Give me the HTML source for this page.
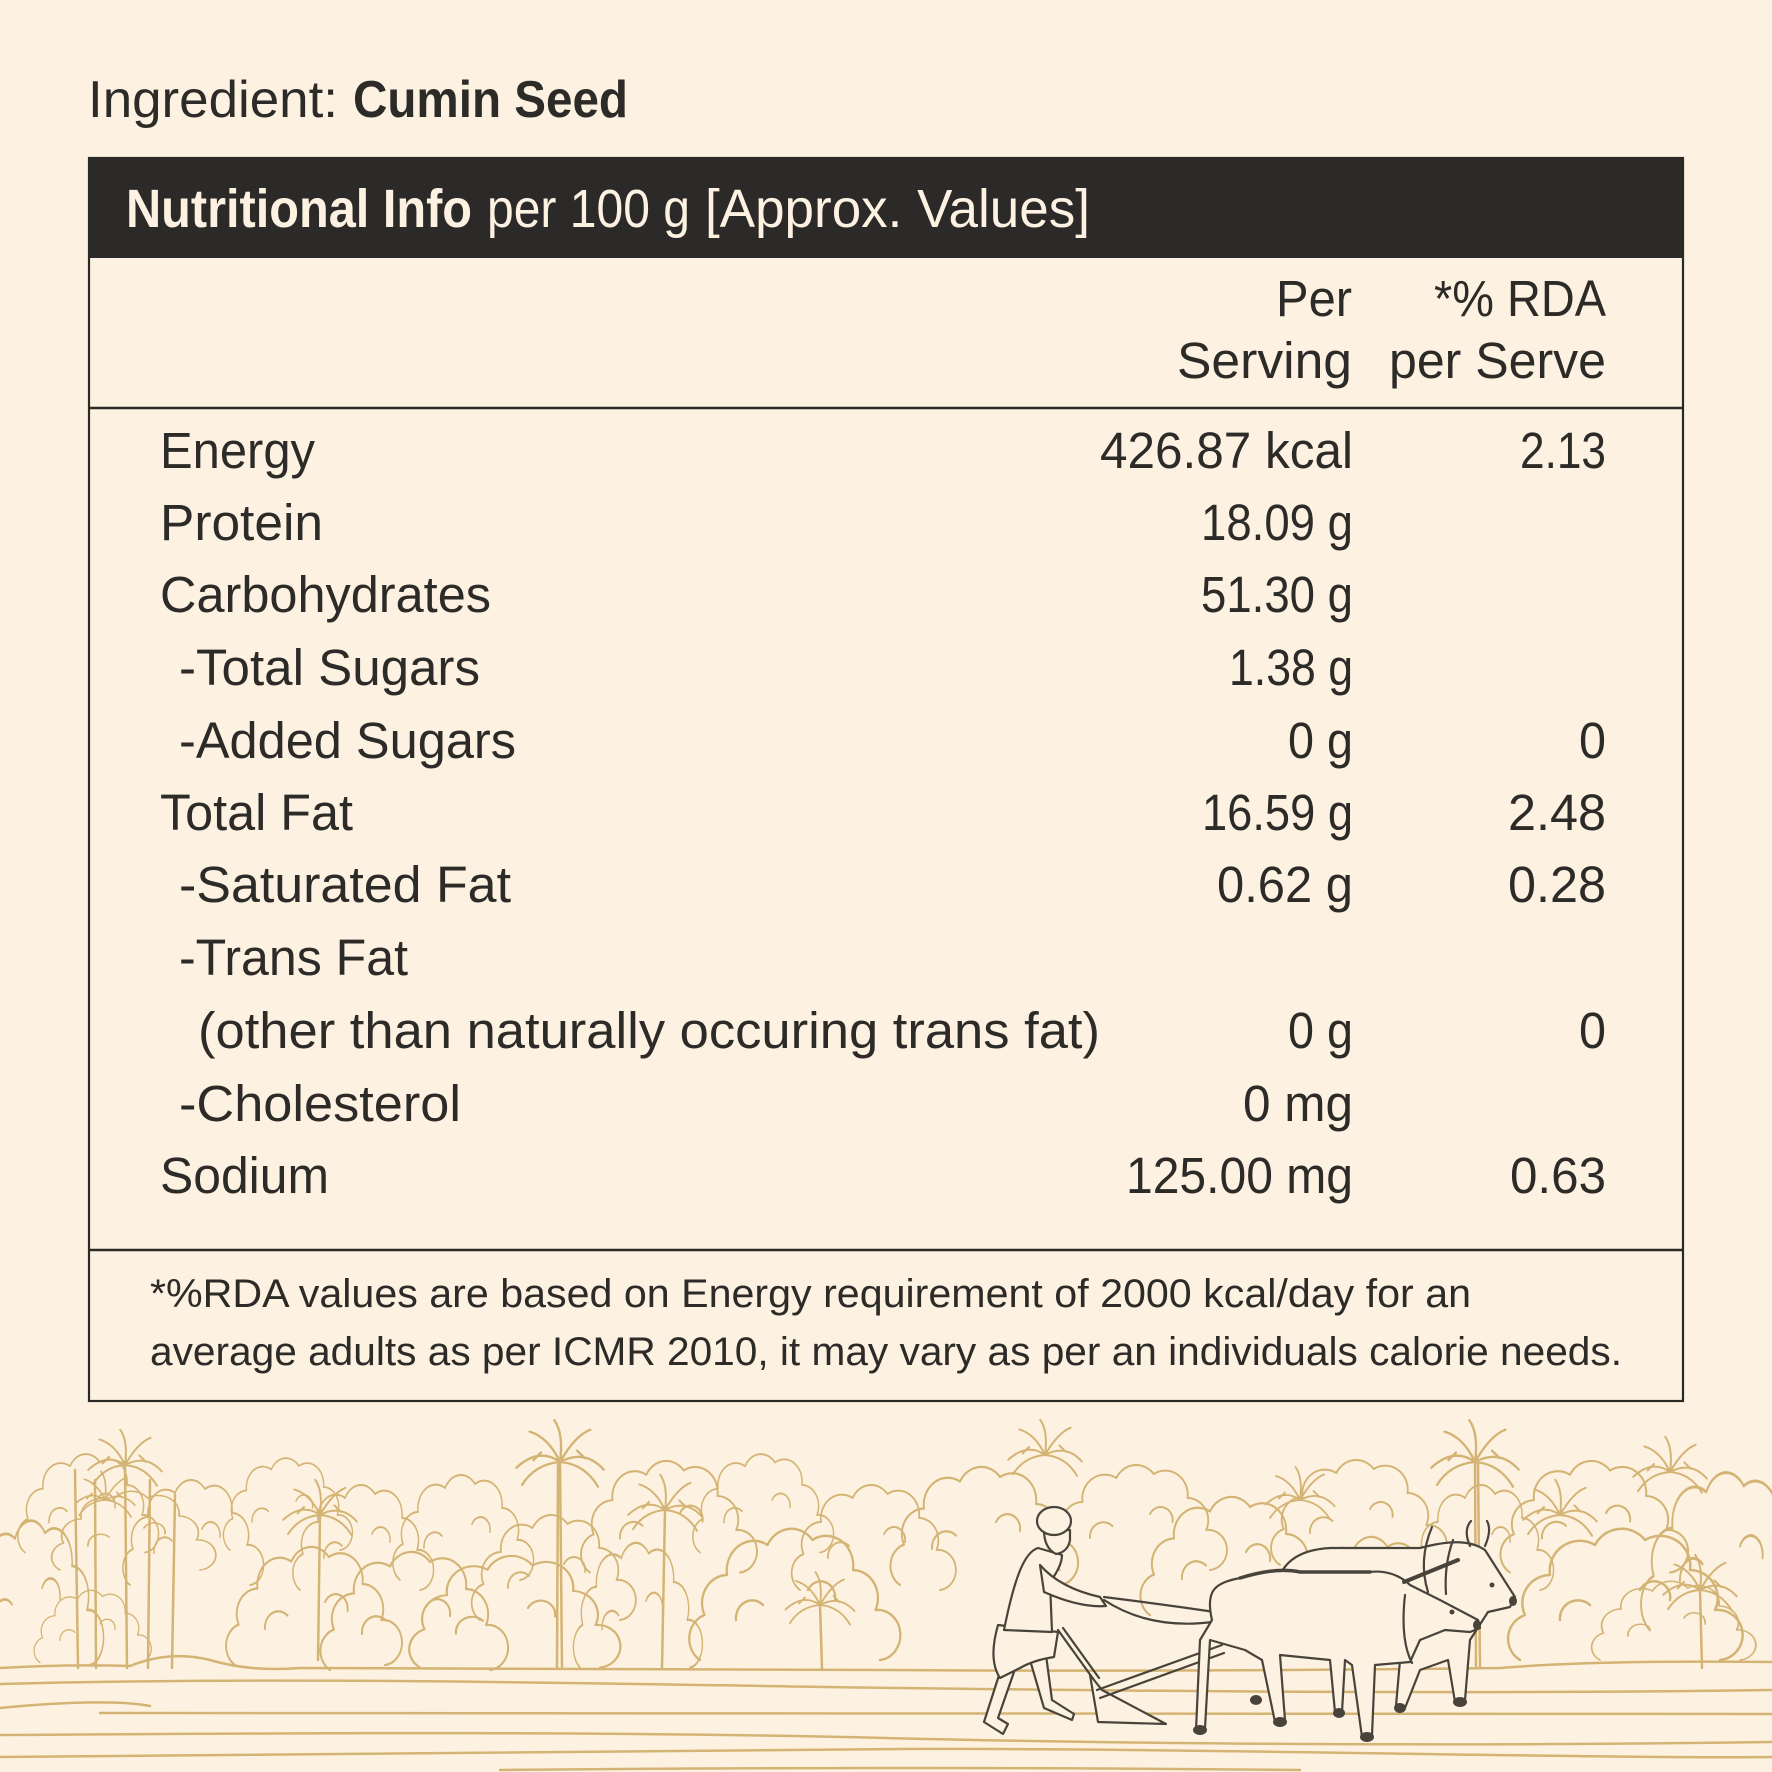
<!DOCTYPE html>
<html>
<head>
<meta charset="utf-8">
<style>
html,body{margin:0;padding:0;background:#fdf2e2;}
svg{display:block;}
.t{font-family:"Liberation Sans",Arial,sans-serif;fill:#2d2b28;}
.b{font-weight:bold;}
.g{fill:none;stroke:#d4b474;stroke-width:2.5;stroke-linecap:round;stroke-linejoin:round;}
.d{fill:#fdf2e2;stroke:#48433b;stroke-width:2.2;stroke-linecap:round;stroke-linejoin:round;}
.dl{fill:none;stroke:#48433b;stroke-width:2.2;stroke-linecap:round;stroke-linejoin:round;}
.hf{fill:#48433b;stroke:none;}
</style>
</head>
<body>
<svg width="1772" height="1772" viewBox="0 0 1772 1772" xmlns="http://www.w3.org/2000/svg">
<defs>
  <path id="cl" d="M0,150 A25,25 0 0 1 5,105 A28,28 0 0 1 30,65 A30,30 0 0 1 75,35 A30,30 0 0 1 125,30 A30,30 0 0 1 170,60 A28,28 0 0 1 195,100 A25,25 0 0 1 200,150 M40,110 A18,18 0 0 1 70,95 M120,80 A16,16 0 0 1 150,90"/>
  <path id="pm" d="M0,0 Q-22,-16 -46,6 M0,0 Q-12,-26 -32,-32 M0,0 Q4,-30 -6,-44 M0,0 Q16,-28 32,-34 M0,0 Q26,-14 46,8 M0,0 Q-26,2 -40,24 M0,0 Q26,2 40,26 M-20,-10 L-28,-2 M18,-12 L26,-4"/>
</defs>
<rect x="0" y="0" width="1772" height="1772" fill="#fdf2e2"/>

<!-- Background illustration -->
<g class="g">
  <use href="#cl" transform="translate(-30,1500) scale(0.6,1.1)"/>
  <use href="#cl" transform="translate(25,1440) scale(0.6,0.75)"/>
  <use href="#cl" transform="translate(60,1480) scale(0.7,0.6)"/>
  <use href="#cl" transform="translate(130,1465) scale(0.6,0.8)"/>
  <use href="#cl" transform="translate(230,1445) scale(0.55,0.7)"/>
  <use href="#cl" transform="translate(235,1530) scale(0.75,0.9)"/>
  <use href="#cl" transform="translate(300,1470) scale(0.6,0.8)"/>
  <use href="#cl" transform="translate(330,1535) scale(0.8,0.9)"/>
  <use href="#cl" transform="translate(400,1460) scale(0.6,0.8)"/>
  <use href="#cl" transform="translate(420,1540) scale(0.9,0.85)"/>
  <use href="#cl" transform="translate(480,1500) scale(0.7,0.8)"/>
  <use href="#cl" transform="translate(590,1445) scale(0.75,0.85)"/>
  <use href="#cl" transform="translate(580,1525) scale(0.55,0.95)"/>
  <use href="#cl" transform="translate(700,1510) scale(0.9,1.0)"/>
  <use href="#cl" transform="translate(700,1440) scale(0.6,0.75)"/>
  <use href="#cl" transform="translate(800,1470) scale(0.7,0.8)"/>
  <use href="#cl" transform="translate(900,1450) scale(0.8,0.9)"/>
  <use href="#cl" transform="translate(1060,1450) scale(0.75,0.8)"/>
  <use href="#cl" transform="translate(1150,1480) scale(0.8,0.9)"/>
  <use href="#cl" transform="translate(1280,1445) scale(0.75,0.8)"/>
  <use href="#cl" transform="translate(1300,1520) scale(0.7,0.9)"/>
  <use href="#cl" transform="translate(1420,1470) scale(0.6,0.8)"/>
  <use href="#cl" transform="translate(1510,1445) scale(0.8,0.85)"/>
  <use href="#cl" transform="translate(1520,1510) scale(1.0,1.0)"/>
  <use href="#cl" transform="translate(1650,1450) scale(0.75,1.2)"/>
  <use href="#cl" transform="translate(1600,1570) scale(0.7,0.6)"/>
  <use href="#cl" transform="translate(40,1580) scale(0.5,0.55)"/>

  <use href="#pm" transform="translate(125,1465) scale(0.8)"/>
  <use href="#pm" transform="translate(105,1500) scale(0.65)"/>
  <use href="#pm" transform="translate(560,1462) scale(0.95)"/>
  <use href="#pm" transform="translate(1045,1455) scale(0.8)"/>
  <use href="#pm" transform="translate(1475,1462) scale(0.95)"/>
  <use href="#pm" transform="translate(665,1510) scale(0.8)"/>
  <use href="#pm" transform="translate(320,1515) scale(0.8)"/>
  <use href="#pm" transform="translate(820,1605) scale(0.75)"/>
  <use href="#pm" transform="translate(1700,1590) scale(0.8)"/>
  <use href="#pm" transform="translate(1560,1515) scale(0.8)"/>
  <use href="#pm" transform="translate(1670,1472) scale(0.8)"/>
  <use href="#pm" transform="translate(1300,1500) scale(0.75)"/>

  <path d="M75,1470 L78,1668 M95,1480 L96,1668 M125,1465 L127,1668 M150,1480 L148,1668 M175,1495 L172,1668 M560,1462 L562,1668 M558,1462 L557,1668 M665,1510 L662,1668 M1475,1462 L1476,1668 M1478,1462 L1480,1668 M320,1515 L318,1660 M820,1605 L822,1668 M1700,1590 L1702,1668"/>

  <path d="M0,1668 Q70,1664 130,1666 Q170,1650 210,1660 Q250,1672 300,1668 L886,1670 Q1200,1672 1500,1668 Q1600,1660 1772,1662"/>
  <path d="M0,1684 C300,1676 600,1684 900,1688 S1500,1694 1772,1690"/>
  <path d="M0,1708 C60,1702 120,1700 150,1706 M100,1713 L1772,1714"/>
  <path d="M0,1735 C300,1733 600,1731 886,1738 S1500,1746 1772,1742"/>
  <path d="M0,1757 C300,1752 600,1750 900,1749 S1600,1759 1772,1757"/>
  <path d="M500,1770 Q900,1766 1300,1770"/>
</g>

<!-- Farmer -->
<g>
  <path class="dl" d="M1104,1600 Q1150,1630 1212,1622 M1104,1597 Q1160,1604 1215,1612"/>
  <path class="dl" d="M1058,1630 L1094,1680 M1063,1628 L1099,1678"/>
  <path class="d" d="M1090,1675 L1098,1722 L1166,1724 L1102,1690 Z"/>
  <path class="dl" d="M1097,1690 L1222,1645 M1100,1698 L1224,1653"/>
  <path class="d" d="M1000,1672 L984,1722 L1003,1734 L1008,1724 L998,1718 L1014,1672 Z"/>
  <path class="d" d="M1030,1660 L1044,1708 L1072,1720 L1074,1714 L1052,1700 L1046,1655 Z"/>
  <path class="d" d="M998,1625 Q988,1660 1000,1678 L1020,1668 Q1034,1660 1054,1657 L1058,1632 Z"/>
  <path class="d" d="M1038,1548 C1025,1552 1015,1575 1004,1630 L1052,1632 L1050,1582 Q1062,1566 1062,1555 Z"/>
  <path class="d" d="M1040,1565 Q1060,1588 1100,1597 L1106,1606 Q1080,1608 1044,1592 Z"/>
  <path class="d" d="M1044,1530 Q1044,1548 1056,1554 Q1068,1552 1070,1540 L1070,1530 Z"/>
  <ellipse class="d" cx="1054" cy="1521" rx="17" ry="14"/>
</g>

<!-- Back ox -->
<path class="d" d="M1275,1590 C1280,1565 1295,1550 1330,1548 L1420,1548 C1450,1540 1470,1540 1485,1550 L1515,1597 L1510,1607 L1488,1612 L1470,1640 L1465,1700 L1455,1702 L1448,1660 L1420,1670 L1405,1708 L1396,1706 L1400,1660 Z"/>
<path class="dl" d="M1470,1546 Q1463,1530 1471,1521 M1485,1546 Q1492,1530 1487,1521"/>
<!-- Front ox -->
<path class="d" d="M1212,1620 C1205,1590 1215,1583 1240,1578 C1260,1572 1280,1568 1300,1572 L1370,1572 C1385,1570 1400,1575 1410,1585 L1440,1600 L1478,1620 L1480,1628 L1470,1632 L1445,1630 L1420,1640 L1410,1662 L1375,1665 L1372,1735 L1362,1737 L1352,1665 L1345,1660 L1342,1712 L1335,1712 L1330,1660 L1280,1655 L1285,1720 L1275,1722 L1262,1660 L1245,1650 L1210,1640 L1205,1728 L1196,1730 L1200,1640 Z"/>
<path class="dl" style="stroke-width:3.5" d="M1240,1578 C1260,1572 1280,1568 1300,1572 L1370,1572"/>
<path class="dl" d="M1428,1592 Q1418,1560 1432,1527 M1446,1594 Q1444,1565 1453,1540"/>
<path class="dl" style="stroke-width:4" d="M1404,1582 L1458,1560"/>
<path class="dl" d="M1405,1595 Q1400,1640 1412,1663"/>
<g class="hf">
  <ellipse cx="1200" cy="1730" rx="7" ry="5"/>
  <ellipse cx="1280" cy="1722" rx="7" ry="5"/>
  <ellipse cx="1367" cy="1737" rx="7" ry="5"/>
  <ellipse cx="1339" cy="1713" rx="6" ry="5"/>
  <ellipse cx="1460" cy="1702" rx="7" ry="5"/>
  <ellipse cx="1400" cy="1708" rx="6" ry="5"/>
  <ellipse cx="1256" cy="1700" rx="6" ry="5"/>
  <ellipse cx="1477" cy="1625" rx="4" ry="5"/>
  <ellipse cx="1513" cy="1601" rx="4" ry="5"/>
  <circle cx="1452" cy="1612" r="2.5"/>
  <circle cx="1492" cy="1585" r="2.5"/>
</g>

<!-- Title -->
<text class="t" x="88" y="117" font-size="52" textLength="250" lengthAdjust="spacingAndGlyphs">Ingredient:</text>
<text class="t b" x="353" y="117" font-size="52" textLength="275" lengthAdjust="spacingAndGlyphs">Cumin Seed</text>

<!-- Box -->
<rect x="89" y="158" width="1594" height="100" fill="#2b2a28"/>
<rect x="89" y="158" width="1594" height="1243" fill="none" stroke="#2b2926" stroke-width="2.2"/>
<line x1="89" y1="408" x2="1683" y2="408" stroke="#2b2926" stroke-width="2.4"/>
<line x1="89" y1="1250" x2="1683" y2="1250" stroke="#2b2926" stroke-width="2.4"/>

<text class="t b" x="126" y="227" font-size="54" style="fill:#fdf2e2" textLength="346" lengthAdjust="spacingAndGlyphs">Nutritional Info</text>
<text class="t" x="487" y="227" font-size="54" style="fill:#fdf2e2" textLength="203" lengthAdjust="spacingAndGlyphs">per 100 g</text>
<text class="t" x="705" y="227" font-size="54" style="fill:#fdf2e2" textLength="385" lengthAdjust="spacingAndGlyphs">[Approx. Values]</text>

<!-- Column headers -->
<g class="t" font-size="51">
  <text x="1276" y="316" textLength="76" lengthAdjust="spacingAndGlyphs">Per</text>
  <text x="1177" y="378" textLength="175" lengthAdjust="spacingAndGlyphs">Serving</text>
  <text x="1434" y="316" textLength="172" lengthAdjust="spacingAndGlyphs">*% RDA</text>
  <text x="1389" y="378" textLength="217" lengthAdjust="spacingAndGlyphs">per Serve</text>
</g>

<!-- Rows -->
<g class="t" font-size="51">
  <text x="160" y="468" textLength="155" lengthAdjust="spacingAndGlyphs">Energy</text>
  <text x="160" y="540" textLength="163" lengthAdjust="spacingAndGlyphs">Protein</text>
  <text x="160" y="612" textLength="331" lengthAdjust="spacingAndGlyphs">Carbohydrates</text>
  <text x="179" y="685" textLength="301" lengthAdjust="spacingAndGlyphs">-Total Sugars</text>
  <text x="179" y="758" textLength="337" lengthAdjust="spacingAndGlyphs">-Added Sugars</text>
  <text x="160" y="830" textLength="193" lengthAdjust="spacingAndGlyphs">Total Fat</text>
  <text x="179" y="902" textLength="332" lengthAdjust="spacingAndGlyphs">-Saturated Fat</text>
  <text x="179" y="975" textLength="229" lengthAdjust="spacingAndGlyphs">-Trans Fat</text>
  <text x="198" y="1048" textLength="902" lengthAdjust="spacingAndGlyphs">(other than naturally occuring trans fat)</text>
  <text x="179" y="1121" textLength="282" lengthAdjust="spacingAndGlyphs">-Cholesterol</text>
  <text x="160" y="1193" textLength="169" lengthAdjust="spacingAndGlyphs">Sodium</text>

  <text x="1100" y="468" textLength="253" lengthAdjust="spacingAndGlyphs">426.87 kcal</text>
  <text x="1201" y="540" textLength="152" lengthAdjust="spacingAndGlyphs">18.09 g</text>
  <text x="1201" y="612" textLength="152" lengthAdjust="spacingAndGlyphs">51.30 g</text>
  <text x="1229" y="685" textLength="124" lengthAdjust="spacingAndGlyphs">1.38 g</text>
  <text x="1288" y="758" textLength="65" lengthAdjust="spacingAndGlyphs">0 g</text>
  <text x="1202" y="830" textLength="151" lengthAdjust="spacingAndGlyphs">16.59 g</text>
  <text x="1217" y="902" textLength="136" lengthAdjust="spacingAndGlyphs">0.62 g</text>
  <text x="1288" y="1048" textLength="65" lengthAdjust="spacingAndGlyphs">0 g</text>
  <text x="1243" y="1121" textLength="110" lengthAdjust="spacingAndGlyphs">0 mg</text>
  <text x="1126" y="1193" textLength="227" lengthAdjust="spacingAndGlyphs">125.00 mg</text>

  <text x="1520" y="468" textLength="86" lengthAdjust="spacingAndGlyphs">2.13</text>
  <text x="1579" y="758" textLength="27" lengthAdjust="spacingAndGlyphs">0</text>
  <text x="1508" y="830" textLength="98" lengthAdjust="spacingAndGlyphs">2.48</text>
  <text x="1508" y="902" textLength="98" lengthAdjust="spacingAndGlyphs">0.28</text>
  <text x="1579" y="1048" textLength="27" lengthAdjust="spacingAndGlyphs">0</text>
  <text x="1510" y="1193" textLength="96" lengthAdjust="spacingAndGlyphs">0.63</text>
</g>

<!-- Footer -->
<g class="t" font-size="40">
  <text x="150" y="1307" textLength="1321" lengthAdjust="spacingAndGlyphs">*%RDA values are based on Energy requirement of 2000 kcal/day for an</text>
  <text x="150" y="1365" textLength="1472" lengthAdjust="spacingAndGlyphs">average adults as per ICMR 2010, it may vary as per an individuals calorie needs.</text>
</g>
</svg>
</body>
</html>
